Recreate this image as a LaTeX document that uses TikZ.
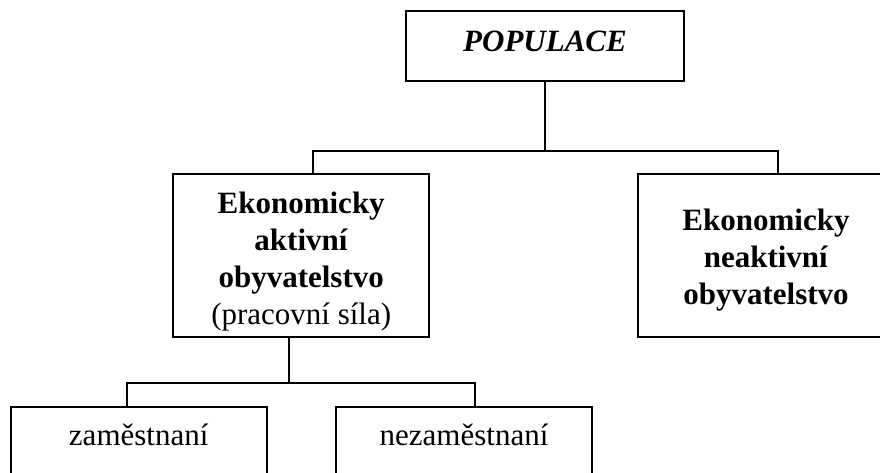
\documentclass[tikz,border=0pt]{standalone}
\usepackage{fontspec}
\setmainfont{Liberation Serif}
\tikzset{
  box/.style={ % framed box of the chart
    draw, rectangle, line width=1.8pt,
    inner sep=0pt, minimum width=256pt,
    align=center, text=black,
    font=\fontsize{31}{37}\selectfont
  },
  tallbox/.style={ % the two boxes of the middle row
    box, minimum height=162.7pt
  },
  lowbox/.style={ % the two boxes of the bottom row
    box, minimum height=70pt, text height=22pt, text depth=15.4pt
  },
  link/.style={ % square connector line
    draw, line width=1.8pt
  }
}

\begin{document}
\begin{tikzpicture}[x=1pt, y=-1pt]
  \useasboundingbox (0,0) rectangle (880,472);

  \node[box, minimum width=278pt, minimum height=70pt,
        text height=20.7pt, text depth=9.4pt] (pop) at (545,46) {\textbf{\textit{POPULACE}}};
  \node[tallbox] (akt) at (301.2,255.35)
    {\rule{0pt}{33pt}\textbf{Ekonomicky}\\\textbf{aktivní}\\\textbf{obyvatelstvo}\\(pracovní síla)};
  \node[tallbox] (neakt) at (766,255.35)
    {\rule{0pt}{30pt}\textbf{Ekonomicky}\\\textbf{neaktivní}\\\textbf{obyvatelstvo}};
  \node[lowbox] (zam) at (138.7,441.7) {zaměstnaní};
  \node[lowbox] (nezam) at (464,441.7) {nezaměstnaní};

  \coordinate (fork) at (545,151);
  \coordinate (split) at (289.2,382.7);

  \draw[link] (pop.south) -- (fork);
  \draw[link] ([xshift=11.5pt]akt.north) |- (fork) -| ([xshift=11.7pt]neakt.north);
  \draw[link] ([xshift=-12pt]akt.south) -- (split);
  \draw[link] ([xshift=-12pt]zam.north) |- (split) -| ([xshift=11pt]nezam.north);
\end{tikzpicture}
\end{document}
